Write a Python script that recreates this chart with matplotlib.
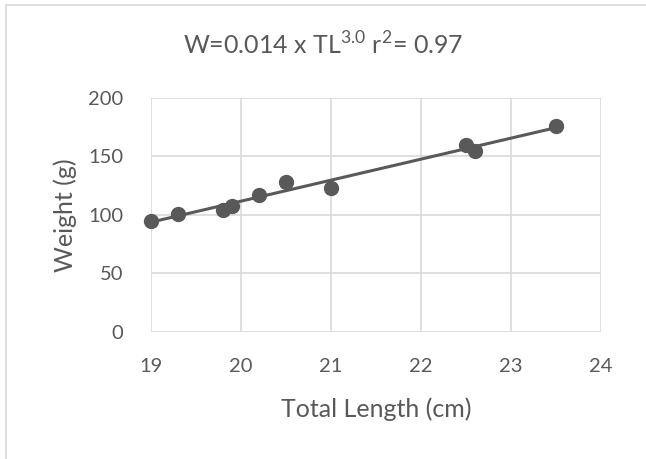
import numpy as np
import matplotlib
matplotlib.use("Agg")
import matplotlib.pyplot as plt
from matplotlib.patches import Rectangle

plt.rcParams['font.family'] = ['Lato', 'DejaVu Sans']

# fish length (cm) and weight (g)
total_length = [19.0, 19.3, 19.8, 19.9, 20.2, 20.5, 21.0, 22.5, 22.6, 23.5]
weight = [95, 101, 104, 108, 117, 128, 123, 160, 155, 176]

x_ticks = [19, 20, 21, 22, 23, 24]
y_ticks = [0, 50, 100, 150, 200]
title = r"W=0.014 x TL$^{\mathregular{3.0}}$ r$^{\mathregular{2}}$= 0.97"

grey = "#595959"
grid = "#d9d9d9"

fig = plt.figure(figsize=(6.46, 4.59), dpi=100)
ax = fig.add_axes([0.2337, 0.2767, 0.6963, 0.5098])

# trendline through the points
slope, icpt = np.polyfit(total_length, weight, 1)
xs = np.array([min(total_length), max(total_length)])
ax.plot(xs, slope * xs + icpt, color=grey, lw=2.2, zorder=3)
ax.scatter(total_length, weight, s=100, color=grey, zorder=4, clip_on=False)

ax.set_xlim(19, 24)
ax.set_ylim(0, 200)
ax.set_xticks(x_ticks)
ax.set_yticks(y_ticks)
ax.grid(True, color=grid, lw=1.2)
ax.set_axisbelow(True)
for s in ax.spines.values():
    s.set_visible(False)
ax.tick_params(length=0, colors=grey, labelsize=14.5)
ax.tick_params(axis='x', pad=19)
ax.tick_params(axis='y', pad=20)

ax.set_xlabel("Total Length (cm)", color=grey, fontsize=18)
ax.set_ylabel("Weight (g)", color=grey, fontsize=18)
ax.xaxis.set_label_coords(0.5, -0.28)
ax.yaxis.set_label_coords(-0.165, 0.5)
fig.text(0.5, 0.902, title, ha='center', va='center', color=grey, fontsize=18)

# thin frame as in the chart area
fig.patches.append(Rectangle((0.009, -0.1), 1.2, 1.089, transform=fig.transFigure,
                             fill=False, edgecolor="#d9d9d9", lw=1.2))

fig.savefig("out.png", dpi=100)
